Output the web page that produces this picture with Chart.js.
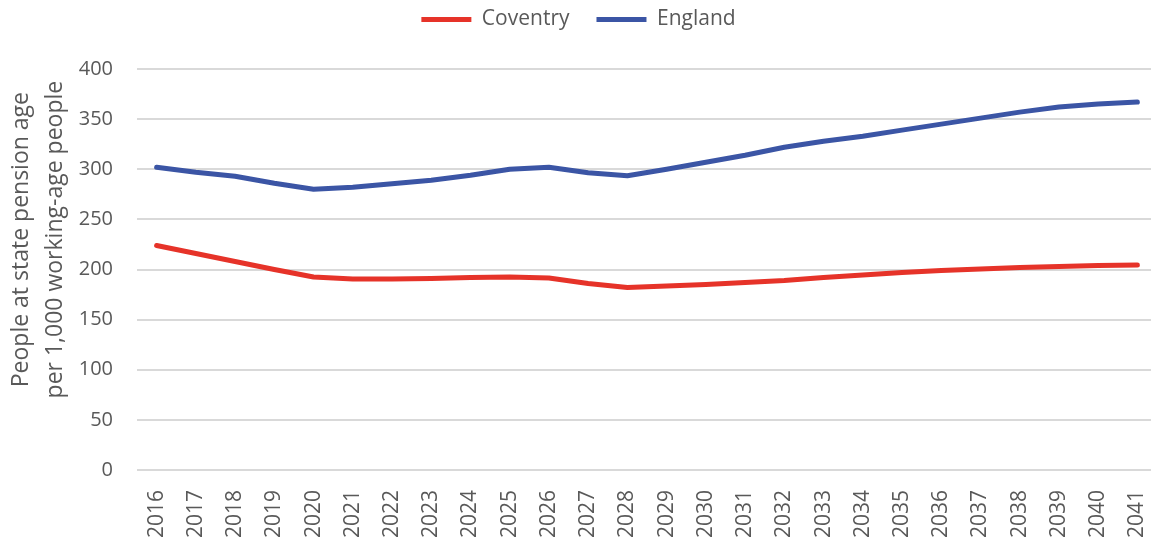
<!DOCTYPE html>
<html>
<head>
<meta charset="utf-8">
<script src="https://cdn.jsdelivr.net/npm/chart.js@4/dist/chart.umd.min.js"></script>
<style>
  html, body { margin: 0; padding: 0; background: #fff; overflow: hidden; }
  canvas { display: block; }
</style>
</head>
<body>
<canvas id="chart" width="1162" height="541"></canvas>
<script>
const years = ['2016','2017','2018','2019','2020','2021','2022','2023','2024','2025','2026','2027','2028',
  '2029','2030','2031','2032','2033','2034','2035','2036','2037','2038','2039','2040','2041'];
const coventry = [224, 216, 208, 200, 192.5, 190.5, 190.5, 191, 192, 192.5, 191.5, 186, 182,
  183.5, 185, 187, 189, 192, 194.5, 197, 199, 200.5, 202, 203, 204, 204.5];
const england = [302, 297, 293, 286, 280, 282, 285.5, 289, 294, 300, 302, 296.5, 293.5,
  300, 307, 314, 322, 328, 333, 339, 345, 351, 357, 362, 365, 367];
const yTicks = [0, 50, 100, 150, 200, 250, 300, 350, 400];

const font = "'Open Sans', 'Liberation Sans', sans-serif";
const textColor = '#595959';

// fixed legend height so the plot area starts where the original has it
const legendSpace = {
  id: 'legendSpace',
  beforeInit(chart) {
    const fit = chart.legend.fit;
    chart.legend.fit = function () {
      fit.call(this);
      this.height = 87;
    };
  }
};

new Chart(document.getElementById('chart').getContext('2d'), {
  type: 'line',
  data: {
    labels: years,
    datasets: [
      {
        label: 'Coventry',
        data: coventry,
        borderColor: '#E63329',
        backgroundColor: '#E63329',
        borderWidth: 5,
        borderCapStyle: 'round',
        borderJoinStyle: 'round',
        pointRadius: 0,
        tension: 0
      },
      {
        label: 'England',
        data: england,
        borderColor: '#3B55A5',
        backgroundColor: '#3B55A5',
        borderWidth: 5,
        borderCapStyle: 'round',
        borderJoinStyle: 'round',
        pointRadius: 0,
        tension: 0
      }
    ]
  },
  plugins: [legendSpace],
  options: {
    responsive: false,
    animation: false,
    layout: { padding: { left: 0, right: 5, top: -18, bottom: 0 } },
    plugins: {
      legend: {
        position: 'top',
        labels: {
          usePointStyle: true,
          pointStyle: 'line',
          pointStyleWidth: 50,
          boxHeight: 20,
          color: textColor,
          font: { family: font, size: 21 },
          padding: 27
        }
      },
      tooltip: { enabled: false }
    },
    scales: {
      x: {
        offset: true,
        grid: { display: false },
        border: { display: false },
        afterFit: axis => {
          axis.height = 71;
          axis.paddingLeft = 0;
          axis.paddingRight = 0;
        },
        ticks: {
          color: textColor,
          font: { family: font, size: 21 },
          minRotation: 90,
          maxRotation: 90,
          autoSkip: false,
          padding: 12
        }
      },
      y: {
        min: 0,
        max: 400,
        afterBuildTicks: axis => { axis.ticks = yTicks.map(v => ({ value: v })); },
        afterFit: axis => { axis.width = 137; },
        grid: { color: '#d9d9d9', lineWidth: 2, drawTicks: false },
        border: { display: false },
        ticks: {
          color: textColor,
          font: { family: font, size: 20 },
          padding: 24
        },
        title: {
          display: true,
          text: ['          People at state pension age', '          per 1,000 working-age people'],
          color: textColor,
          font: { family: font, size: 23, lineHeight: 1.48 },
          padding: { top: 4, bottom: 4 }
        }
      }
    }
  }
});
</script>
</body>
</html>
